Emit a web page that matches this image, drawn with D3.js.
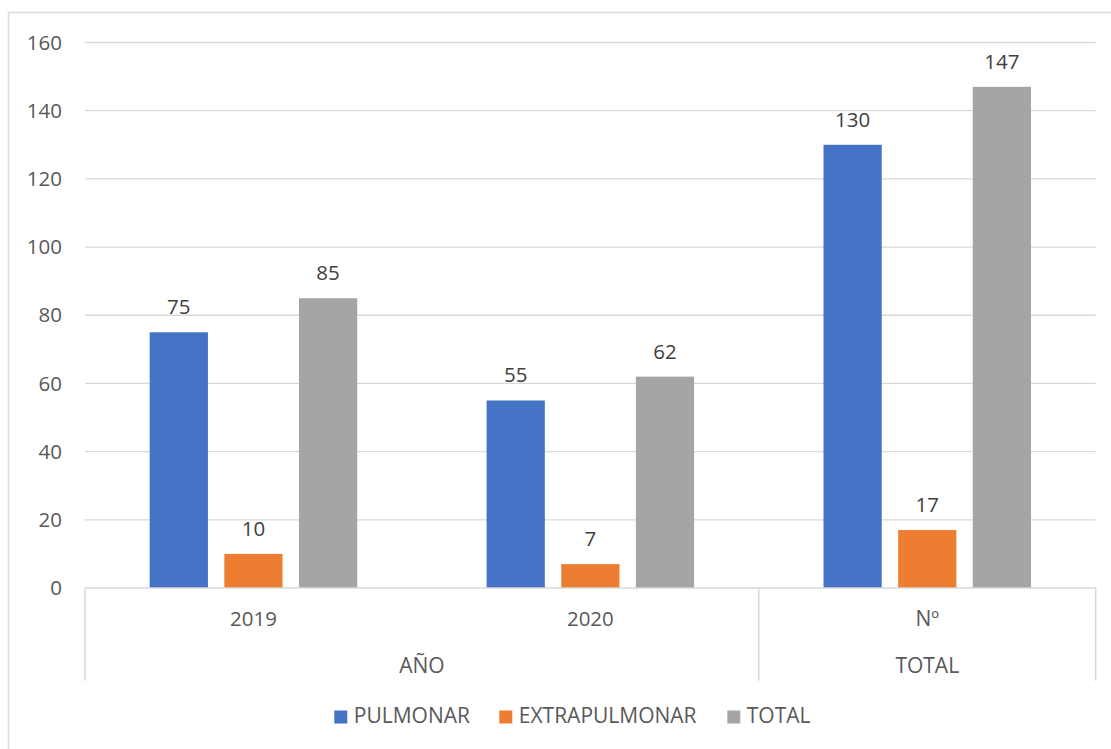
<!DOCTYPE html>
<html>
<head>
<meta charset="utf-8">
<script src="https://cdn.jsdelivr.net/npm/d3@7"></script>
<style>
  html, body { margin: 0; padding: 0; background: #fff; }
  svg { display: block; }
  text { font-family: "Open Sans", "Liberation Sans", sans-serif; }
</style>
</head>
<body>
<svg id="chart" width="1111" height="749"></svg>
<script>
// ---- data ----
const categories = ["2019", "2020", "Nº"];
const groups = [
  { label: "AÑO", span: 2 },
  { label: "TOTAL", span: 1 }
];
const seriesNames = ["PULMONAR", "EXTRAPULMONAR", "TOTAL"];
const pulmonar = [75, 55, 130];
const extrapulmonar = [10, 7, 17];
const total = [85, 62, 147];
const yTicks = [0, 20, 40, 60, 80, 100, 120, 140, 160];
const seriesColors = ["#4472c4", "#ed7d31", "#a5a5a5"];

const seriesValues = [pulmonar, extrapulmonar, total];

// ---- layout ----
const svg = d3.select("#chart");
const plot = { left: 85, right: 1095.7, top: 42.5, bottom: 588 };
const gridColor = "#d9d9d9";
const textColor = "#595959";
const numSize = 20.5;
const wordSize = 21;

// outer chart border
svg.append("rect")
  .attr("x", 8.5).attr("y", 12.5)
  .attr("width", 1120).attr("height", 760)
  .attr("fill", "none").attr("stroke", gridColor).attr("stroke-width", 1.5);

const y = d3.scaleLinear().domain([0, 160]).range([plot.bottom, plot.top]);
const x0 = d3.scaleBand().domain(categories).range([plot.left, plot.right]).paddingInner(0).paddingOuter(0);
const x1 = d3.scaleBand().domain(seriesNames).range([0, x0.bandwidth()])
  .paddingInner(0.22).paddingOuter(0.867);

// gridlines
svg.append("g").selectAll("line")
  .data(yTicks.filter(d => d !== 0))
  .join("line")
  .attr("x1", plot.left).attr("x2", plot.right)
  .attr("y1", d => y(d)).attr("y2", d => y(d))
  .attr("stroke", gridColor).attr("stroke-width", 1.3);

// y axis labels
const yAxis = d3.axisLeft(y).tickValues(yTicks).tickSize(0).tickPadding(0);
const yg = svg.append("g").attr("transform", `translate(62,0)`).call(yAxis);
yg.select(".domain").remove();
yg.selectAll("text")
  .attr("font-size", numSize)
  .attr("fill", textColor)
  .attr("font-family", "'Open Sans', 'Liberation Sans', sans-serif");

// bars
const barG = svg.append("g");
categories.forEach((cat, ci) => {
  seriesNames.forEach((s, si) => {
    const v = seriesValues[si][ci];
    const bx = x0(cat) + x1(s);
    barG.append("rect")
      .attr("x", bx).attr("y", y(v))
      .attr("width", x1.bandwidth()).attr("height", y(0) - y(v))
      .attr("fill", seriesColors[si]);
    barG.append("text")
      .attr("x", bx + x1.bandwidth() / 2)
      .attr("y", y(v) - 18)
      .attr("text-anchor", "middle")
      .attr("font-size", numSize)
      .attr("fill", "#404040")
      .text(v);
  });
});

// category axis line
svg.append("line")
  .attr("x1", plot.left).attr("x2", plot.right)
  .attr("y1", y(0)).attr("y2", y(0))
  .attr("stroke", gridColor).attr("stroke-width", 1.5);

// category labels (level 1)
const xAxis = d3.axisBottom(x0).tickSize(0).tickPadding(0);
const xg = svg.append("g").attr("transform", `translate(0,${y(0)})`).call(xAxis);
xg.select(".domain").remove();
xg.selectAll("text")
  .attr("dy", null)
  .attr("y", 37.5)
  .attr("font-size", d => /^\d+$/.test(d) ? numSize : wordSize)
  .attr("fill", textColor)
  .attr("font-family", "'Open Sans', 'Liberation Sans', sans-serif");

// group separators and group labels (level 2)
const bounds = [plot.left];
let idx = 0;
groups.forEach(g => { idx += g.span; bounds.push(idx < categories.length ? x0(categories[idx]) : plot.right); });
svg.append("g").selectAll("line")
  .data(bounds)
  .join("line")
  .attr("x1", d => d).attr("x2", d => d)
  .attr("y1", y(0)).attr("y2", 680.7)
  .attr("stroke", gridColor).attr("stroke-width", 1.5);

svg.append("g").selectAll("text")
  .data(groups)
  .join("text")
  .attr("x", (d, i) => (bounds[i] + bounds[i + 1]) / 2)
  .attr("y", 672.5)
  .attr("text-anchor", "middle")
  .attr("font-size", wordSize)
  .attr("fill", textColor)
  .text(d => d.label);

// legend
const legendX = [334.3, 499.3, 727.3];
const legend = svg.append("g");
seriesNames.forEach((s, i) => {
  legend.append("rect")
    .attr("x", legendX[i]).attr("y", 710.5)
    .attr("width", 13).attr("height", 13)
    .attr("fill", seriesColors[i]);
  legend.append("text")
    .attr("x", legendX[i] + 19.5)
    .attr("y", 723.3)
    .attr("font-size", wordSize)
    .attr("fill", textColor)
    .text(s);
});
</script>
</body>
</html>
